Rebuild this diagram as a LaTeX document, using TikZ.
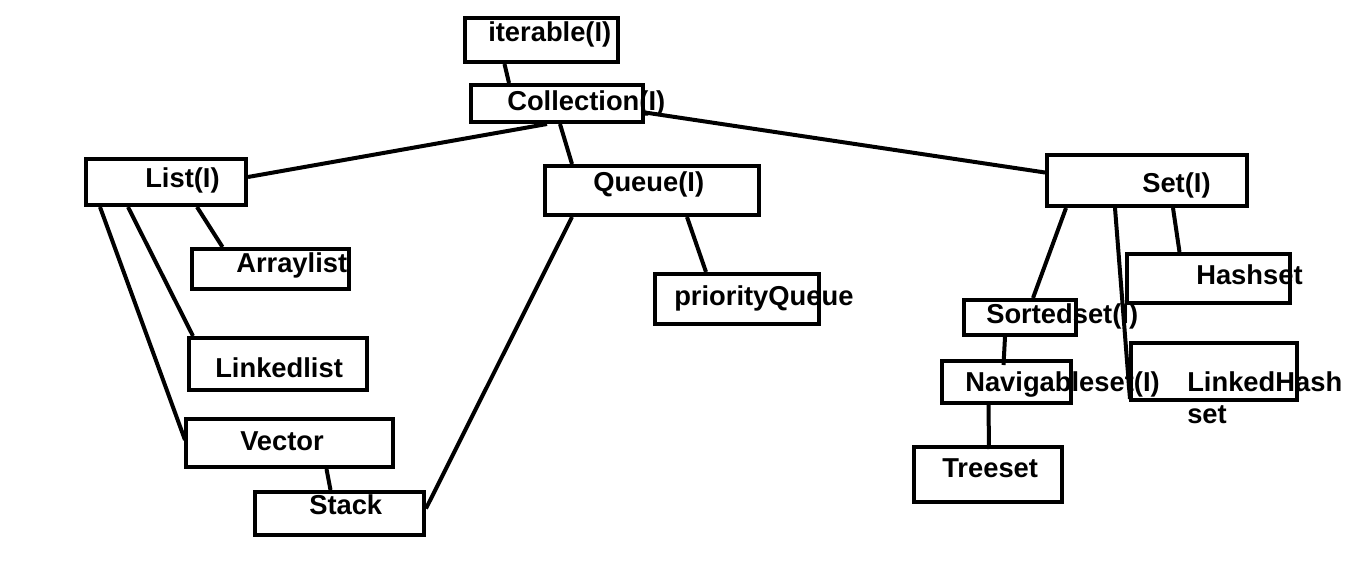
\documentclass[tikz,border=0pt]{standalone}
\usepackage{fontspec}
\setmainfont{Liberation Sans}
\usetikzlibrary{calc}

\begin{document}
\begin{tikzpicture}[x=0.75pt,y=-0.75pt,
    box/.style 2 args={draw,line width=3pt,inner sep=0pt,minimum width=#1*0.75pt,minimum height=#2*0.75pt},
    lbl/.style={anchor=base west,inner sep=0pt,font=\fontsize{20.5pt}{24pt}\selectfont\bfseries},
    link/.style={line width=3pt}]
    \useasboundingbox[fill=white] (0,0) rectangle (1349,581);

    % boxes
    \node[box={153}{44}] (iter) at (541.5,40) {};
    \node[box={172}{37}] (coll) at (557,103.5) {};
    \node[box={160}{46}] (list) at (166,182) {};
    \node[box={214}{49}] (queue) at (652,190.5) {};
    \node[box={200}{51}] (set) at (1147,180.5) {};
    \node[box={157}{40}] (alist) at (270.5,269) {};
    \node[box={178}{52}] (llist) at (278,364) {};
    \node[box={207}{48}] (vec) at (289.5,443) {};
    \node[box={169}{43}] (stack) at (339.5,513.5) {};
    \node[box={164}{50}] (pqueue) at (737,299) {};
    \node[box={163}{49}] (hset) at (1208.5,278.5) {};
    \node[box={112}{35}] (sset) at (1020,317.5) {};
    \node[box={129}{42}] (nset) at (1006.5,382) {};
    \node[box={166}{57}] (lhset) at (1214,371.5) {};
    \node[box={148}{55}] (tset) at (988,474.5) {};

    % texts
    \node[lbl] (t-iter) at (488,42) {iterable(I)};
    \node[lbl] (t-coll) at (507,111) {Collection(I)};
    \node[lbl] (t-list) at (145,188) {List(I)};
    \node[lbl] (t-queue) at (593,192) {Queue(I)};
    \node[lbl] (t-set) at (1142,193) {Set(I)};
    \node[lbl] (t-alist) at (236,272) {Arraylist};
    \node[lbl] (t-llist) at (215,377) {Linkedlist};
    \node[lbl] (t-vec) at (240,450) {Vector};
    \node[lbl] (t-stack) at (309,514) {Stack};
    \node[lbl] (t-pqueue) at (674,305) {priorityQueue};
    \node[lbl] (t-hset) at (1196,284) {Hashset};
    \node[lbl] (t-sset) at (986,323) {Sortedset(I)};
    \node[lbl] (t-nset) at (965,391) {Navigableset(I)};
    \node[lbl] (t-lhset) at (1187,391) {LinkedHash};
    \node[lbl] (t-lhset2) at (1187,423) {set};
    \node[lbl] (t-tset) at (942,477) {Treeset};

    % links
    \draw[link] ($(iter.south)+(-37,0)$) -- ($(coll.north)+(-48,0)$);
    \draw[link] ($(coll.south)+(-10,0)$) -- ($(list.east)+(0,-5)$);
    \draw[link] ($(coll.south)+(3,0)$) -- ($(queue.north)+(-80,0)$);
    \draw[link] ($(coll.east)+(0,9)$) -- ($(set.west)+(0,-8)$);
    \draw[link] ($(list.south)+(31,0)$) -- ($(alist.north)+(-48,0)$);
    \draw[link] ($(list.south)+(-38,0)$) -- ($(llist.north)+(-85,0)$);
    \draw[link] ($(list.south)+(-66,0)$) -- ($(vec.west)+(1,-3)$);
    \draw[link] ($(vec.south)+(37,0)$) -- ($(stack.north)+(-9,0)$);
    \draw[link] ($(queue.south)+(-80,0)$) -- ($(stack.east)+(0,-5)$);
    \draw[link] ($(queue.south)+(35,0)$) -- ($(pqueue.north)+(-31,0)$);
    \draw[link] ($(set.south)+(-81,0)$) -- ($(sset.north)+(13,0)$);
    \draw[link] ($(set.south)+(26,0)$) -- ($(hset.north)+(-29,0)$);
    \draw[link] ($(set.south)+(-32,0)$) -- ($(lhset.south west)+(1,-3)$);
    \draw[link] ($(sset.south)+(-15,0)$) -- ($(nset.north)+(-3,6)$);
    \draw[link] ($(nset.south)+(-18,0)$) -- ($(tset.north)+(1,4)$);
\end{tikzpicture}
\end{document}
